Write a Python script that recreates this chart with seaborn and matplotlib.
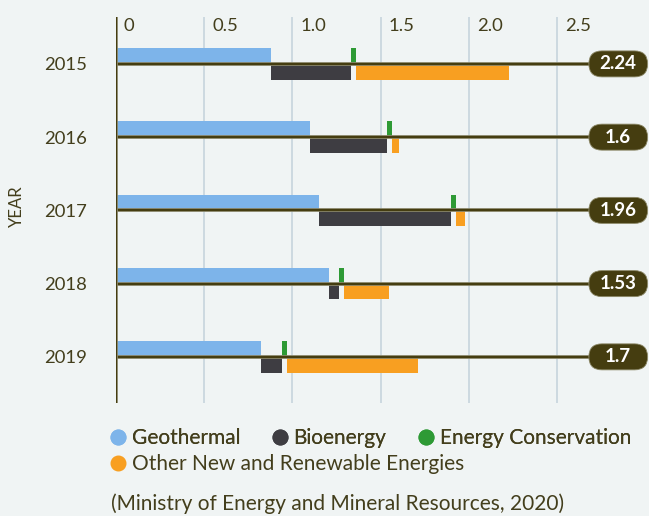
import matplotlib.pyplot as plt
import matplotlib.patheffects as pe
import pandas as pd
import seaborn as sns
from matplotlib.lines import Line2D
from matplotlib.patches import FancyBboxPatch

years = ["2015", "2016", "2017", "2018", "2019"]
geothermal = [0.88, 1.10, 1.15, 1.21, 0.82]
bioenergy = [0.45, 0.435, 0.75, 0.057, 0.12]
conservation = [0.028, 0.028, 0.028, 0.028, 0.028]
other = [0.87, 0.04, 0.05, 0.255, 0.743]
total_labels = ["2.24", "1.6", "1.96", "1.53", "1.7"]

x_ticks = [0, 0.5, 1.0, 1.5, 2.0, 2.5]
x_tick_labels = ["0", "0.5", "1.0", "1.5", "2.0", "2.5"]

series_names = ["Geothermal", "Bioenergy", "Energy Conservation",
                "Other New and Renewable Energies"]
colors = ["#7db4ea", "#3e3d42", "#2e9a35", "#f89f21"]

BG = "#f0f4f4"
DARK = "#453d10"
TEXT = "#433e1c"

sns.set_theme(style="white", rc={"axes.facecolor": BG, "figure.facecolor": BG})
plt.rcParams["font.family"] = ["Lato", "DejaVu Sans"]

df = pd.DataFrame({
    "year": years,
    "geothermal": geothermal,
    "bioenergy": bioenergy,
    "conservation": conservation,
    "other": other,
})
df["pos"] = range(len(df))
df["bio_start"] = df["geothermal"]
df["cons_start"] = df["geothermal"] + df["bioenergy"]
df["other_start"] = df["cons_start"] + df["conservation"]

fig = plt.figure(figsize=(6.49, 5.16), dpi=100)
ax = fig.add_axes([0.1787, 0.219, 0.8208, 0.748])

h = 0.215
# above the line: geothermal and energy conservation
ax.barh(df["pos"], df["geothermal"], height=-h, align="edge",
        color=colors[0], lw=0, zorder=2)
ax.barh(df["pos"], df["conservation"], left=df["cons_start"], height=-h,
        align="edge", color=colors[2], lw=0, zorder=2)
# below the line: bioenergy and the rest
ax.barh(df["pos"], df["bioenergy"], left=df["bio_start"], height=h,
        align="edge", color=colors[1], lw=0, zorder=2)
ax.barh(df["pos"], df["other"], left=df["other_start"], height=h,
        align="edge", color=colors[3], lw=0, zorder=2)

xmax = 3.02
box_left, box_w = 2.681, 0.333
box_h = 0.355
halo = [pe.Stroke(linewidth=2.7, foreground="#98957c"), pe.Normal()]
for i, lab in enumerate(total_labels):
    ax.plot([0, box_left + 0.1], [i, i], color=DARK, lw=1.7, zorder=3,
            solid_capstyle="butt", path_effects=halo)
    box = FancyBboxPatch((box_left, i - box_h / 2), box_w, box_h,
                         boxstyle="round,pad=0,rounding_size=0.074",
                         mutation_aspect=2.41, fc=DARK, ec="#8b8766",
                         lw=0.6, zorder=4)
    ax.add_patch(box)
    ax.text(box_left + box_w / 2, i, lab, ha="center", va="center",
            color="white", fontsize=13.5, fontweight="bold", zorder=5)

for t in x_ticks[1:]:
    ax.axvline(t, color="#c7d4dc", lw=1.2, zorder=1)
ax.axvline(0, color=DARK, lw=1.7, zorder=3, path_effects=halo)

for t, lab in zip(x_ticks, x_tick_labels):
    ax.text(t + 0.045, 0.977, lab, transform=ax.get_xaxis_transform(),
            ha="left", va="center", fontsize=13.3, color=TEXT)

ax.set_xlim(0, xmax)
ax.set_ylim(4.63, -0.64)
ax.set_xticks([])
ax.set_yticks(df["pos"])
ax.set_yticklabels(years, fontsize=13.3, color=TEXT)
ax.tick_params(axis="y", length=0, pad=20.6)
ax.set_ylabel("YEAR", fontsize=12, color=TEXT)
ax.yaxis.set_label_coords(-0.171, 0.51)
for s in ax.spines.values():
    s.set_visible(False)

handles = [Line2D([], [], marker="o", ls="", color=c, markersize=10.5)
           for c in colors]
leg_kw = dict(loc="center left", frameon=False, fontsize=15,
              handlelength=0.7, handletextpad=0.29, borderaxespad=0,
              borderpad=0, labelcolor=TEXT)
leg1 = fig.legend(handles[:3], series_names[:3], ncol=3,
                  bbox_to_anchor=(0.171, 0.1506), columnspacing=1.57,
                  **leg_kw)
fig.legend(handles[3:], series_names[3:], bbox_to_anchor=(0.171, 0.1002),
           **leg_kw)
fig.add_artist(leg1)

fig.text(0.171, 0.0246, "(Ministry of Energy and Mineral Resources, 2020)",
         ha="left", va="center", fontsize=15, color=TEXT)

fig.savefig("out.png", dpi=100, facecolor=BG)
